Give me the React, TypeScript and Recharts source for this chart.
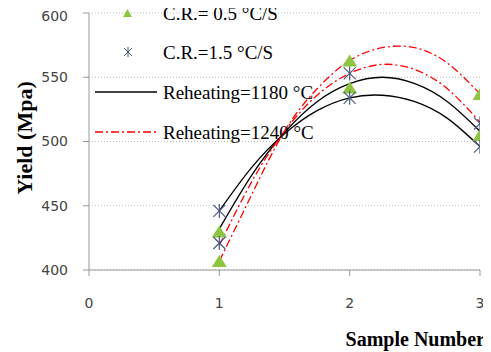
import React from 'react'
import {
  ComposedChart,
  Line,
  Scatter,
  XAxis,
  YAxis,
  CartesianGrid,
  Legend,
} from 'recharts'

// sample numbers / measured yield values
const sampleNo = [1, 1, 2, 2, 3, 3]
const cr05 = [430, 407, 563, 542, 537, 505]
const cr15 = [446, 421, 553, 534, 514, 496]

// fitted curves
const curveX = [1, 1.25, 1.5, 1.75, 2, 2.25, 2.5, 2.75, 3]
const reheat1180Upper = [432, 474, 507, 531, 545, 550, 545, 531, 508]
const reheat1180Lower = [446, 480, 506, 524, 534, 536, 531, 518, 496]
const reheat1240Upper = [407, 459, 508, 541, 563, 573, 573, 561, 537]
const reheat1240Lower = [419, 469, 508, 536, 553, 560, 556, 541, 515]

const xTicks = [0, 1, 2, 3]
const yTicks = [400, 450, 500, 550, 600]

const GREEN = '#8DC540'
const STAR = '#4A5A82'
const RED = '#FF0000'

const pts = (ys: number[], xs: number[]) => ys.map((y, i) => ({ x: xs[i], y }))

const cr05Data = pts(cr05, sampleNo)
const cr15Data = pts(cr15, sampleNo)
const b1 = pts(reheat1180Upper, curveX)
const b2 = pts(reheat1180Lower, curveX)
const r1 = pts(reheat1240Upper, curveX)
const r2 = pts(reheat1240Lower, curveX)

const Triangle = (p: any) => {
  const { cx, cy } = p
  return <polygon points={`${cx},${cy - 6} ${cx - 7.5},${cy + 6} ${cx + 7.5},${cy + 6}`} fill={GREEN} />
}

const Star = (p: any) => {
  const { cx, cy } = p
  const s = 6
  return (
    <g stroke={STAR} strokeWidth={1.2}>
      <line x1={cx - s} y1={cy - s} x2={cx + s} y2={cy + s} />
      <line x1={cx - s} y1={cy + s} x2={cx + s} y2={cy - s} />
      <line x1={cx} y1={cy - s - 1} x2={cx} y2={cy + s + 1} />
    </g>
  )
}

const serif = 'Liberation Serif, Times New Roman, serif'

const renderLegend = () => (
  <svg width={260} height={142} style={{ display: 'block', overflow: 'visible' }}>
    <g fontFamily={serif} fontSize={19} fill="#000">
      <polygon points="37.5,7 33,15 42,15" fill={GREEN} />
      <text x={73} y={11} dominantBaseline="central">C.R.= 0.5 °C/S</text>
      <g stroke={STAR} strokeWidth={1}>
        <line x1={34} y1={46} x2={42} y2={54} />
        <line x1={34} y1={54} x2={42} y2={46} />
        <line x1={38} y1={45} x2={38} y2={55} />
      </g>
      <text x={73} y={50} dominantBaseline="central">C.R.=1.5 °C/S</text>
      <line x1={5} y1={90} x2={67} y2={90} stroke="#000" strokeWidth={1.3} />
      <text x={73} y={90} dominantBaseline="central">Reheating=1180 °C</text>
      <line x1={5} y1={130} x2={67} y2={130} stroke={RED} strokeWidth={1.3} strokeDasharray="8 3 2 3" />
      <text x={73} y={130} dominantBaseline="central">Reheating=1240 °C</text>
    </g>
  </svg>
)

export default function App() {
  const tick = { fontFamily: 'DejaVu Sans, Verdana, sans-serif', fontSize: 14, fill: '#444' }
  return (
    <ComposedChart width={483} height={344} margin={{ top: 5, right: 11, left: 5, bottom: 42 }}>
      <CartesianGrid vertical={false} stroke="#bbb" strokeDasharray="1 2" />
      <XAxis
        type="number"
        dataKey="x"
        domain={[0, 3]}
        ticks={xTicks}
        height={40}
        tick={tick}
        tickSize={6}
        tickMargin={22}
        stroke="#999"
        allowDataOverflow
        label={{
          content: () => (
            <text x={477} y={338} textAnchor="end" fontFamily={serif} fontSize={20} fontWeight="bold" fill="#000">
              Sample Number
            </text>
          ),
        }}
      />
      <YAxis
        type="number"
        domain={[400, 600]}
        ticks={yTicks}
        width={76}
        tick={tick}
        tickSize={6}
        tickMargin={15}
        stroke="#999"
        allowDataOverflow
        label={{
          content: () => (
            <text
              x={16}
              y={130}
              transform="rotate(-90 16 130)"
              textAnchor="middle"
              dominantBaseline="central"
              fontFamily={serif}
              fontSize={22}
              fontWeight="bold"
              fill="#000"
            >
              Yield (Mpa)
            </text>
          ),
        }}
      />
      <Legend
        layout="vertical"
        align="center"
        verticalAlign="middle"
        wrapperStyle={{ left: 82, top: -6, width: 260, height: 142 }}
        content={renderLegend}
      />
      <Scatter name="C.R.= 0.5 °C/S" data={cr05Data} dataKey="y" shape={Triangle} isAnimationActive={false} />
      <Scatter name="C.R.=1.5 °C/S" data={cr15Data} dataKey="y" shape={Star} isAnimationActive={false} />
      <Line data={b1} dataKey="y" type="natural" stroke="#000" strokeWidth={1.3} dot={false} isAnimationActive={false} />
      <Line data={b2} dataKey="y" type="natural" stroke="#000" strokeWidth={1.3} dot={false} isAnimationActive={false} />
      <Line data={r1} dataKey="y" type="natural" stroke={RED} strokeWidth={1.3} strokeDasharray="8 3 2 3" dot={false} isAnimationActive={false} />
      <Line data={r2} dataKey="y" type="natural" stroke={RED} strokeWidth={1.3} strokeDasharray="8 3 2 3" dot={false} isAnimationActive={false} />
    </ComposedChart>
  )
}
